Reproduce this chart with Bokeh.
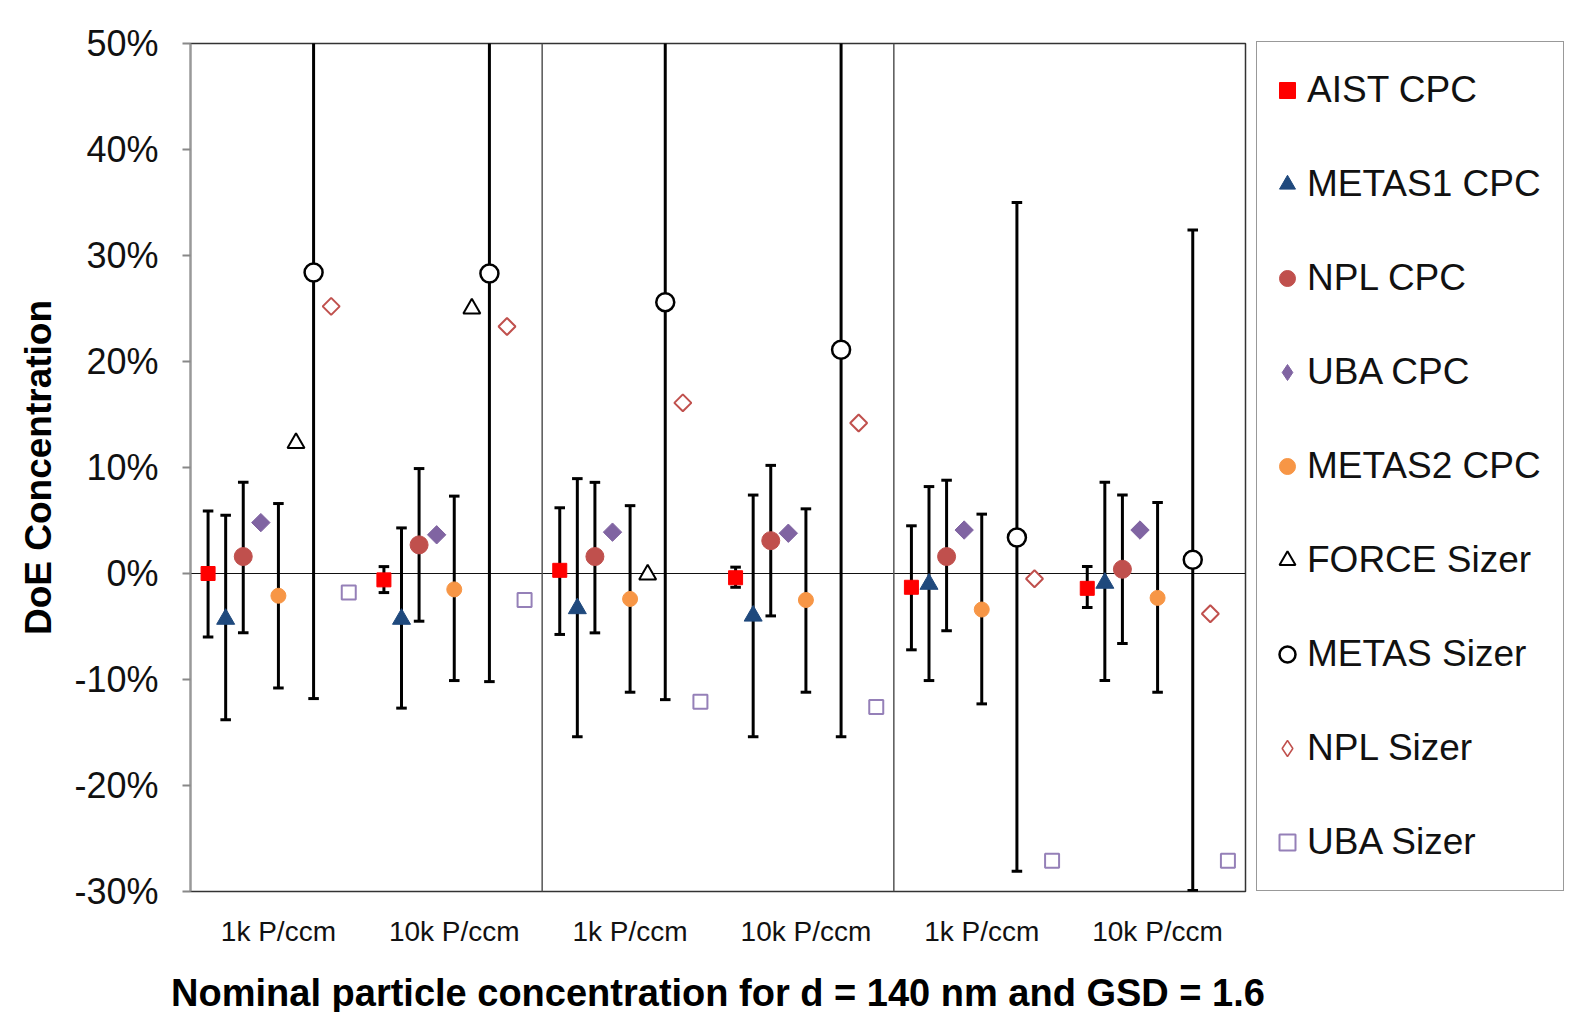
import numpy as np
from bokeh.plotting import figure
from bokeh.models import (Range1d, FixedTicker, PrintfTickFormatter, Span,
                          Legend, LegendItem)
from bokeh.embed import file_html
from bokeh.resources import INLINE

# ---------------- data (DoE in %) ----------------
group_labels = ["1k P/ccm", "10k P/ccm", "1k P/ccm", "10k P/ccm", "1k P/ccm", "10k P/ccm"]
series_names = ["AIST CPC", "METAS1 CPC", "NPL CPC", "UBA CPC", "METAS2 CPC",
                "FORCE Sizer", "METAS Sizer", "NPL Sizer", "UBA Sizer"]

aist_cpc = [0.0, -0.6, 0.3, -0.4, -1.3, -1.4]
aist_cpc_hi = [5.9, 0.65, 6.2, 0.6, 4.5, 0.65]
aist_cpc_lo = [-6.0, -1.8, -5.75, -1.3, -7.2, -3.2]

metas1_cpc = [-4.3, -4.3, -3.3, -4.0, -1.0, -0.9]
metas1_cpc_hi = [5.5, 4.3, 8.95, 7.4, 8.2, 8.6]
metas1_cpc_lo = [-13.8, -12.7, -15.4, -15.4, -10.1, -10.1]

npl_cpc = [1.6, 2.7, 1.6, 3.1, 1.6, 0.4]
npl_cpc_hi = [8.6, 9.9, 8.6, 10.2, 8.8, 7.4]
npl_cpc_lo = [-5.6, -4.5, -5.6, -4.0, -5.4, -6.6]

uba_cpc = [4.8, 3.65, 3.9, 3.8, 4.1, 4.1]

metas2_cpc = [-2.1, -1.5, -2.4, -2.5, -3.4, -2.3]
metas2_cpc_hi = [6.6, 7.3, 6.4, 6.1, 5.6, 6.7]
metas2_cpc_lo = [-10.8, -10.1, -11.2, -11.2, -12.3, -11.2]

force_sizer = [12.3, 25.0, -0.1, np.nan, np.nan, np.nan]

metas_sizer = [28.4, 28.3, 25.6, 21.1, 3.4, 1.3]
metas_sizer_hi = [68.6, 66.8, 63.1, 57.6, 35.0, 32.4]
metas_sizer_lo = [-11.8, -10.2, -11.9, -15.4, -28.1, -29.9]

npl_sizer = [25.2, 23.3, 16.1, 14.2, -0.5, -3.8]
uba_sizer = [-1.8, -2.5, -12.1, -12.6, -27.1, -27.1]

y_ticks = [-30, -20, -10, 0, 10, 20, 30, 40, 50]

# ---------------- figure ----------------
FONT = "Liberation Sans"
p = figure(frame_width=1055, frame_height=848, output_backend="svg", toolbar_location=None,
           x_range=Range1d(0, 6), y_range=Range1d(-30, 50),
           min_border_left=190, min_border_top=43, min_border_bottom=113,
           min_border_right=0)
p.background_fill_color = "white"
p.border_fill_color = "white"
p.grid.visible = False
p.outline_line_color = "#333333"
p.outline_line_width = 1.5

n_groups = len(group_labels)
gidx = np.arange(n_groups)

def xpos(i):
    return gidx + (i + 1) / 10.0

# x axis
xa = p.xaxis[0]
centers = [g + 0.5 for g in range(n_groups)]
xa.ticker = FixedTicker(ticks=centers)
xa.major_label_overrides = {c: lab for c, lab in zip(centers, group_labels)}
xa.major_tick_out = 0
xa.major_tick_in = 0
xa.minor_tick_out = 0
xa.minor_tick_in = 0
xa.axis_line_color = None
xa.major_label_text_font = FONT
xa.major_label_text_font_size = "28px"
xa.major_label_text_color = "#111111"
xa.major_label_standoff = 24
xa.axis_label = "Nominal particle concentration for d = 140 nm and GSD = 1.6"
xa.axis_label_text_font = FONT
xa.axis_label_text_font_size = "38px"
xa.axis_label_text_font_style = "bold"
xa.axis_label_text_color = "#000000"
xa.axis_label_standoff = 22

# y axis
ya = p.yaxis[0]
ya.ticker = FixedTicker(ticks=y_ticks)
ya.formatter = PrintfTickFormatter(format="%d%%")
ya.minor_tick_out = 0
ya.minor_tick_in = 0
ya.major_tick_out = 8
ya.major_tick_in = 0
ya.major_tick_line_color = "#888888"
ya.major_tick_line_width = 2
ya.axis_line_color = "#999999"
ya.axis_line_width = 2
ya.major_label_text_font = FONT
ya.major_label_text_font_size = "36px"
ya.major_label_text_color = "#111111"
ya.major_label_standoff = 24
ya.axis_label = "DoE Concentration"
ya.axis_label_text_font = FONT
ya.axis_label_text_font_size = "37px"
ya.axis_label_text_font_style = "bold"
ya.axis_label_text_color = "#000000"
ya.axis_label_standoff = 12

# reference lines
p.add_layout(Span(location=0, dimension="width", line_color="#111111",
                  line_width=1.2, level="underlay"))
for loc in (2, 4):
    p.add_layout(Span(location=loc, dimension="height", line_color="#555555",
                      line_width=1.5, level="underlay"))

# error bars
CAP = 0.03
def errbars(i, hi, lo):
    x = xpos(i)
    hi = np.array(hi, dtype=float)
    lo = np.array(lo, dtype=float)
    p.segment(x0=x, y0=lo, x1=x, y1=hi, line_color="black", line_width=3)
    p.segment(x0=x - CAP, y0=hi, x1=x + CAP, y1=hi, line_color="black", line_width=3)
    p.segment(x0=x - CAP, y0=lo, x1=x + CAP, y1=lo, line_color="black", line_width=3)

errbars(0, aist_cpc_hi, aist_cpc_lo)
errbars(1, metas1_cpc_hi, metas1_cpc_lo)
errbars(2, npl_cpc_hi, npl_cpc_lo)
errbars(4, metas2_cpc_hi, metas2_cpc_lo)
errbars(6, metas_sizer_hi, metas_sizer_lo)

# markers
r_aist = p.scatter(xpos(0), aist_cpc, marker="square", size=14,
                   fill_color="#FF0000", line_color="#FF0000")
r_metas1 = p.scatter(xpos(1), metas1_cpc, marker="triangle", size=18,
                     fill_color="#1F497D", line_color="#1F497D")
r_npl = p.scatter(xpos(2), npl_cpc, marker="circle", size=18,
                  fill_color="#C0504D", line_color="#C0504D")
r_uba = p.scatter(xpos(3), uba_cpc, marker="square", angle=np.pi / 4, size=13,
                  fill_color="#8064A2", line_color="#8064A2")
r_metas2 = p.scatter(xpos(4), metas2_cpc, marker="circle", size=15,
                     fill_color="#F79646", line_color="#F79646")
r_force = p.scatter(xpos(5), force_sizer, marker="triangle", size=17,
                    fill_color="white", line_color="black", line_width=2)
r_msizer = p.scatter(xpos(6), metas_sizer, marker="circle", size=18,
                     fill_color="white", line_color="black", line_width=2.5)
r_nsizer = p.scatter(xpos(7), npl_sizer, marker="square", angle=np.pi / 4, size=12,
                     fill_color="white", line_color="#C0504D", line_width=2)
r_usizer = p.scatter(xpos(8), uba_sizer, marker="square", size=14,
                     fill_color="white", line_color="#9580B8", line_width=2)

# legend-only diamond glyphs (the legend does not rotate markers); NaN -> nothing drawn in plot
leg_uba = p.scatter(x=[np.nan], y=[np.nan], marker="diamond", size=16,
                    fill_color="#8064A2", line_color="#8064A2")
leg_nsizer = p.scatter(x=[np.nan], y=[np.nan], marker="diamond", size=16,
                       fill_color="white", line_color="#C0504D", line_width=1.5)

legend_renderers = [r_aist, r_metas1, r_npl, leg_uba, r_metas2,
                    r_force, r_msizer, leg_nsizer, r_usizer]

legend = Legend(items=[LegendItem(label=n, renderers=[r], index=0)
                       for n, r in zip(series_names, legend_renderers)],
                location=(11, 0), orientation="vertical")
legend.margin = 6
legend.padding = 10
legend.spacing = 18
legend.label_height = 76
legend.glyph_height = 40
legend.glyph_width = 40
legend.label_standoff = 0
legend.label_width = 246
legend.label_text_font = FONT
legend.label_text_font_size = "37px"
legend.label_text_color = "#111111"
legend.border_line_color = "#333333"
legend.border_line_width = 1.5
legend.background_fill_color = "white"
legend.background_fill_alpha = 1.0
p.add_layout(legend, "right")

open("out.html", "w").write(file_html(p, INLINE))
